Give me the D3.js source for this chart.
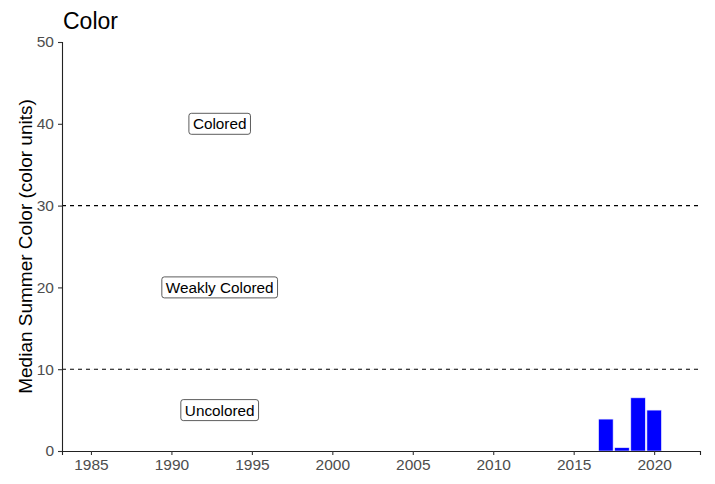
<!DOCTYPE html>
<html>
<head>
<meta charset="utf-8">
<script src="https://cdn.jsdelivr.net/npm/d3@7"></script>
<style>
  body { margin: 0; background: #fff; }
  text { font-family: "Liberation Sans", Arial, sans-serif; }
</style>
</head>
<body>
<svg id="chart"></svg>
<script>
const years = [2017, 2018, 2019, 2020];
const medianColor = [3.9, 0.4, 6.5, 5.0];
const thresholds = [10, 30];
const zoneLabels = ["Uncolored", "Weakly Colored", "Colored"];
const zoneLabelValues = [5, 20, 40];
const zoneLabelYear = 1993;
const xTicks = [1985, 1990, 1995, 2000, 2005, 2010, 2015, 2020];
const yTicks = [0, 10, 20, 30, 40, 50];

const width = 715, height = 484;
const margin = { top: 42, right: 15, bottom: 33, left: 62 };

const svg = d3.select("#chart").attr("width", width).attr("height", height);

const x = d3.scaleLinear()
  .domain([1983.2, 2022.85])
  .range([margin.left, width - margin.right]);
const y = d3.scaleLinear()
  .domain([0, 50])
  .range([height - margin.bottom, margin.top]);

// title
svg.append("text")
  .attr("x", 63).attr("y", 29)
  .attr("font-size", 23)
  .attr("fill", "#000")
  .text("Color");

// threshold lines
svg.append("g")
  .selectAll("line")
  .data(thresholds)
  .join("line")
  .attr("x1", margin.left).attr("x2", width - margin.right)
  .attr("y1", (d) => y(d)).attr("y2", (d) => y(d))
  .attr("stroke", "#000")
  .attr("stroke-width", 1.1)
  .attr("stroke-dasharray", "4,4");

// bars
const barW = (x(1) - x(0)) * 0.9;
svg.append("g")
  .selectAll("rect")
  .data(years.map((yr, i) => ({ yr, v: medianColor[i] })))
  .join("rect")
  .attr("x", (d) => x(d.yr) - barW / 2)
  .attr("width", barW)
  .attr("y", (d) => y(d.v))
  .attr("height", (d) => y(0) - y(d.v))
  .attr("fill", "#0000ff")
  .attr("stroke", "#e8e8ff")
  .attr("stroke-width", 0.6);

// zone labels
const labelGroup = svg.append("g")
  .selectAll("g")
  .data(zoneLabels.map((t, i) => ({ t, v: zoneLabelValues[i] })))
  .join("g")
  .attr("transform", (d) => `translate(${x(zoneLabelYear)},${y(d.v)})`);

labelGroup.append("text")
  .attr("text-anchor", "middle")
  .attr("dy", "0.36em")
  .attr("font-size", 15.3)
  .attr("fill", "#000")
  .text((d) => d.t);

labelGroup.each(function() {
  const g = d3.select(this);
  const bb = g.select("text").node().getBBox();
  g.insert("rect", "text")
    .attr("x", bb.x - 4).attr("y", -10.5)
    .attr("width", bb.width + 8).attr("height", 21)
    .attr("rx", 2.5)
    .attr("fill", "#fff")
    .attr("stroke", "#333")
    .attr("stroke-width", 0.8);
});

// axes
const xAxis = svg.append("g")
  .attr("transform", `translate(0,${y(0)})`)
  .call(d3.axisBottom(x).tickValues(xTicks).tickFormat(d3.format("d")).tickSize(4).tickPadding(4));
const yAxis = svg.append("g")
  .attr("transform", `translate(${margin.left},0)`)
  .call(d3.axisLeft(y).tickValues(yTicks).tickSize(4).tickPadding(4));

[xAxis, yAxis].forEach((ax) => {
  ax.select(".domain").attr("stroke", "#222").attr("stroke-width", 1.1);
  ax.selectAll(".tick line").attr("stroke", "#333").attr("stroke-width", 1.1);
  ax.selectAll(".tick text")
    .attr("fill", "#4d4d4d")
    .attr("font-size", 15.5)
    .style("font-family", "'Liberation Sans', Arial, sans-serif");
});

// y-axis title
svg.append("text")
  .attr("transform", `translate(32,${(y(0) + y(50)) / 2}) rotate(-90)`)
  .attr("text-anchor", "middle")
  .attr("font-size", 19)
  .attr("fill", "#000")
  .text("Median Summer Color (color units)");
</script>
</body>
</html>
